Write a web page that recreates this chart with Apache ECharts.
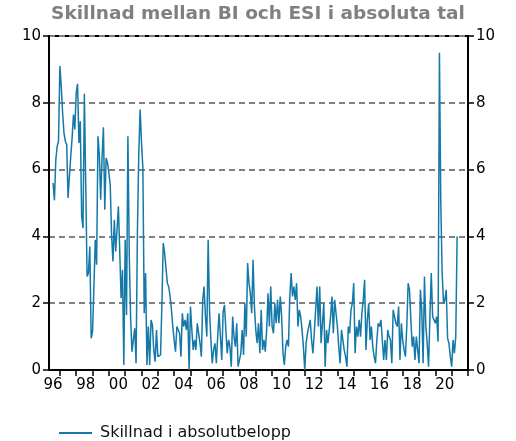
<!DOCTYPE html>
<html>
<head>
<meta charset="utf-8">
<script src="https://cdn.jsdelivr.net/npm/echarts@6/dist/echarts.min.js"></script>
<style>
html,body{margin:0;padding:0;background:#fff;}
#chart{width:516px;height:441px;}
</style>
</head>
<body>
<div id="chart"></div>
<script>
// Axis spans May 1996 .. Jan 2022 (monthly categories)
var axisStartYear = 1996, axisStartMonth = 5;
var axisEndYear = 2022, axisEndMonth = 1;
// Data starts Aug 1996 (monthly)
var dataStartYear = 1996, dataStartMonth = 8;
var seriesName = 'Skillnad i absolutbelopp';
var titleText = 'Skillnad mellan BI och ESI i absoluta tal';
var yTicks = [0, 2, 4, 6, 8, 10];

var skillnad = [
  // 1996-08 ..
  5.6, 5.08, 6.3, 6.7, 6.85, 9.1, 8.5, 7.7, 7.1, 6.85, 6.75, 5.15, 5.8, 6.4, 6.95, 7.65,
  7.2, 8.3, 8.57, 6.8, 7.45, 4.6, 4.25, 8.27, 5.55, 2.8, 2.9, 3.7, 0.95, 1.15, 2.45, 3.9,
  3.15, 7.0, 6.45, 5.1, 6.35, 7.27, 4.8, 6.35, 6.2, 5.9, 5.55, 4.05, 3.25, 4.5, 3.55, 4.2,
  4.9, 3.55, 2.15, 3.0, 0.15, 3.9, 1.65, 7.0, 3.45, 1.55, 0.55, 0.9, 1.25, 0.2, 4.15, 6.5,
  7.8, 6.8, 6.05, 1.7, 2.9, 0.15, 1.3, 0.15, 1.5, 1.35, 0.6, 0.25,
  // 2002-12 ..
  1.2, 0.4, 0.45, 0.45, 2.0, 3.8, 3.5, 3.45, 2.6, 2.5, 2.2, 1.8, 1.3, 0.9, 0.55, 1.3,
  1.25, 1.1, 0.4, 1.7, 1.3, 1.5, 1.2, 1.7, 0.0, 1.9, 1.2, 0.6, 0.9, 0.6, 1.4, 1.1,
  0.8, 0.4, 2.1, 2.5, 1.6, 1.0, 3.9, 1.8, 0.9, 0.2, 0.6, 0.8, 0.2, 1.0, 1.7, 1.0,
  0.3, 1.75, 1.95, 1.2, 0.5, 0.9, 0.7, 0.1, 1.6, 1.0, 0.7, 1.4, 0.1, 0.05, 0.5, 1.2,
  0.45, 2.0, 1.0, 3.2, 2.6, 2.3, 1.7, 3.3, 1.9, 1.2, 0.8, 1.4, 0.5, 1.8, 0.6, 0.9,
  0.55, 1.2, 2.3, 1.3, 2.5, 1.3, 1.1, 2.0, 1.4, 2.1, 1.4, 2.2, 1.6, 0.5, 0.15, 0.7,
  0.9, 0.7, 2.2, 2.9, 2.2, 2.5, 2.1, 2.6, 1.3, 1.8, 1.6, 1.2, 0.7, 0.0, 0.8, 1.1,
  1.3, 1.5, 0.9, 0.5, 1.1, 1.8, 2.5, 1.3, 2.5, 0.8, 1.4, 2.0, 0.1, 1.2, 0.8, 1.2,
  1.6, 2.2, 1.1, 2.1, 1.7, 1.3, 0.7, 0.2, 1.2, 0.9, 0.6, 0.4, 0.1, 1.3, 1.1, 1.8,
  2.0, 2.6, 0.5, 1.3, 1.0, 1.5, 1.0, 1.7, 2.1, 2.7, 0.6, 1.5, 2.0, 0.9, 1.3, 0.7,
  0.4, 0.2, 0.9, 1.4, 1.3, 1.5, 0.9, 0.3, 0.9, 0.3, 1.2, 1.0, 0.9, 0.2, 1.8, 1.6,
  1.4, 1.3, 1.9, 0.3, 1.4, 0.9, 0.6, 0.4, 1.3, 2.6, 2.4, 1.5, 0.7, 1.0, 0.3, 1.0,
  0.6, 0.2, 2.4, 1.8, 0.2, 2.8, 1.3, 0.8, 0.1, 1.6, 2.9, 1.6, 1.5, 1.4, 1.6, 0.85,
  9.5, 5.0, 2.9, 2.0, 2.1, 2.4, 0.95, 0.8, 0.4, 0.1, 0.9, 0.5, 1.0, 4.0
];

function pad(n){ return (n < 10 ? '0' : '') + n; }
var categories = [];
(function(){
  var y = axisStartYear, m = axisStartMonth;
  while (y < axisEndYear || (y === axisEndYear && m <= axisEndMonth)) {
    categories.push(y + '-' + pad(m));
    m++; if (m > 12) { m = 1; y++; }
  }
})();
var offset = categories.indexOf(dataStartYear + '-' + pad(dataStartMonth));
var seriesData = categories.map(function(c, i){
  var k = i - offset;
  return (k >= 0 && k < skillnad.length) ? skillnad[k] : null;
});

var font = 'DejaVu Sans, Verdana, sans-serif';
var lineColor = '#1479a8';
var chart = echarts.init(document.getElementById('chart'), null, {renderer: 'canvas'});
var yAxisBase = {
  type: 'value', min: yTicks[0], max: yTicks[yTicks.length - 1], interval: 2,
  axisLine: {show: true, lineStyle: {color: '#000', width: 2}},
  axisTick: {show: true, inside: false, length: 6, lineStyle: {color: '#000', width: 1.5}},
  axisLabel: {color: '#000', fontSize: 15, fontFamily: font, margin: 8},
  splitLine: {show: false}
};
chart.setOption({
  animation: false,
  backgroundColor: '#fff',
  title: {
    text: titleText, left: 'center', top: 0,
    textStyle: {color: '#808080', fontSize: 18.5, fontWeight: 'bold', fontFamily: font}
  },
  grid: {left: 49, right: 48, top: 36, bottom: 71, show: true, borderColor: '#000', borderWidth: 2},
  legend: {
    left: 54, top: 420, itemWidth: 33, itemHeight: 2, icon: 'rect',
    textStyle: {color: '#111', fontSize: 16, fontFamily: font, padding: [0, 0, 0, 3]},
    data: [{name: seriesName, icon: 'rect', itemStyle: {color: lineColor}}]
  },
  xAxis: {
    type: 'category', data: categories, boundaryGap: false,
    axisLine: {show: true, onZero: false, lineStyle: {color: '#000', width: 2}},
    axisTick: {show: true, length: 6, lineStyle: {color: '#000', width: 1.5},
      interval: function(i, v){ return v.slice(5) === '01'; }},
    axisLabel: {color: '#000', fontSize: 15, fontFamily: font, margin: 8, showMinLabel: true, showMaxLabel: true,
      interval: function(i, v){ return v.slice(5) === '08' && (parseInt(v.slice(0,4)) % 2 === 0); },
      formatter: function(v){ return v.slice(2,4); }}
  },
  yAxis: [
    Object.assign({}, yAxisBase, {position: 'left',
      splitLine: {show: true, lineStyle: {color: '#808080', width: 2, type: [6, 4]}}}),
    Object.assign({}, yAxisBase, {position: 'right'})
  ],
  series: [{
    name: seriesName, type: 'line', data: seriesData, symbol: 'none', showSymbol: false, connectNulls: false,
    lineStyle: {color: lineColor, width: 1.5}, itemStyle: {color: lineColor}
  }]
});
</script>
</body>
</html>
